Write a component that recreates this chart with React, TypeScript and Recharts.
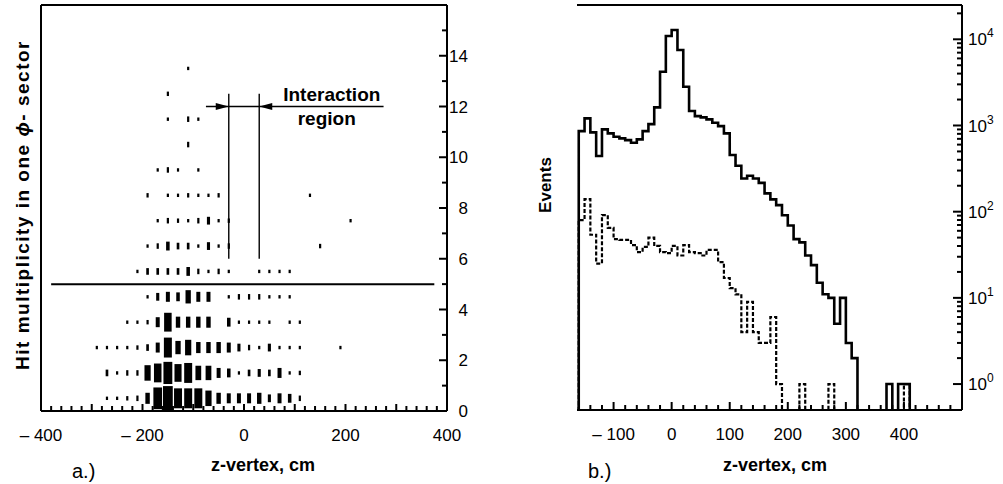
import React from 'react';
import { ScatterChart, Scatter, LineChart, Line, XAxis, YAxis, ReferenceLine, ReferenceDot, Label } from 'recharts';

const FONT = '"Liberation Sans", Arial, Helvetica, sans-serif';
const INK = '#000';

// ---------- panel a.) : hit multiplicity vs z-vertex (box histogram) ----------
const Z_CENTERS = [-290, -270, -250, -230, -210, -190, -170, -150, -130, -110, -90, -70, -50, -30, -10, 10, 30, 50, 70, 90, 110, 130, 150, 170, 190, 210];
const ROW_0 = [0, 14, 14, 25, 39, 156, 600, 760, 506, 506, 506, 306, 156, 127, 127, 127, 156, 77, 127, 100, 39, 0, 0, 0, 0, 0];
const ROW_1 = [0, 56, 14, 39, 39, 306, 451, 625, 400, 506, 264, 264, 127, 100, 14, 56, 77, 56, 127, 14, 25, 0, 0, 0, 0, 0];
const ROW_2 = [14, 14, 14, 14, 25, 56, 127, 506, 225, 306, 156, 156, 156, 127, 77, 39, 14, 77, 14, 14, 14, 0, 0, 0, 14, 0];
const ROW_3 = [0, 0, 0, 14, 14, 25, 127, 451, 156, 156, 156, 156, 0, 100, 14, 14, 14, 14, 0, 14, 14, 0, 0, 0, 0, 0];
const ROW_4 = [0, 0, 0, 0, 0, 14, 77, 127, 100, 225, 127, 127, 0, 14, 39, 39, 39, 14, 14, 14, 0, 0, 0, 0, 0, 0];
const ROW_5 = [0, 0, 0, 0, 14, 56, 56, 56, 56, 100, 39, 14, 39, 14, 0, 0, 14, 14, 14, 14, 0, 0, 0, 0, 0, 0];
const ROW_6 = [0, 0, 0, 0, 0, 14, 39, 100, 56, 56, 14, 77, 14, 39, 0, 0, 0, 0, 0, 0, 0, 0, 25, 0, 0, 0];
const ROW_7 = [0, 0, 0, 0, 0, 0, 14, 39, 25, 14, 39, 77, 14, 25, 0, 0, 0, 0, 0, 0, 0, 0, 0, 0, 0, 14];
const ROW_8 = [0, 0, 0, 0, 0, 25, 0, 14, 14, 25, 14, 14, 25, 0, 0, 0, 0, 0, 0, 0, 0, 14, 0, 0, 0, 0];
const ROW_9 = [0, 0, 0, 0, 0, 0, 14, 39, 14, 0, 14, 0, 0, 0, 0, 0, 0, 0, 0, 0, 0, 0, 0, 0, 0, 0];
const ROW_10 = [0, 0, 0, 0, 0, 0, 0, 0, 0, 39, 0, 0, 0, 0, 0, 0, 0, 0, 0, 0, 0, 0, 0, 0, 0, 0];
const ROW_11 = [0, 0, 0, 0, 0, 0, 0, 14, 0, 39, 14, 0, 0, 0, 0, 0, 0, 0, 0, 0, 0, 0, 0, 0, 0, 0];
const ROW_12 = [0, 0, 0, 0, 0, 0, 0, 25, 0, 0, 0, 0, 0, 0, 0, 0, 0, 0, 0, 0, 0, 0, 0, 0, 0, 0];
const ROW_13 = [0, 0, 0, 0, 0, 0, 0, 0, 0, 14, 0, 0, 0, 0, 0, 0, 0, 0, 0, 0, 0, 0, 0, 0, 0, 0];
const MULT_ROWS = [ROW_0, ROW_1, ROW_2, ROW_3, ROW_4, ROW_5, ROW_6, ROW_7, ROW_8, ROW_9, ROW_10, ROW_11, ROW_12, ROW_13];
const XA_LABELS = [-400, -200, 0, 200, 400];
const YA_LABELS = [0, 2, 4, 6, 8, 10, 12, 14];
const CUT_MULT = 5;
const REGION_Z = [-30, 30];

// ---------- panel b.) : events vs z-vertex (log histogram) ----------
const BIN_LEFT = [-160, -150, -140, -130, -120, -110, -100, -90, -80, -70, -60, -50, -40, -30, -20, -10, 0, 10, 20, 30, 40, 50, 60, 70, 80, 90, 100, 110, 120, 130, 140, 150, 160, 170, 180, 190, 200, 210, 220, 230, 240, 250, 260, 270, 280, 290, 300, 310, 320, 330, 340, 350, 360, 370, 380, 390, 400, 410];
const EVENTS_ALL = [861, 1208, 832, 442, 901, 809, 739, 708, 677, 630, 690, 861, 1038, 1622, 4200, 10900, 12800, 7500, 2810, 1470, 1285, 1241, 1177, 1075, 984, 809, 454, 341, 243, 261, 243, 216, 163, 139, 119, 91, 69, 48, 44, 31, 24, 15, 11, 10, 5, 10, 3, 2, 0, 0, 0, 0, 0, 1, 0, 1, 1, 0];
const EVENTS_CUT = [80, 140, 54, 25, 91, 65, 48, 47, 47, 41, 34, 39, 50, 40, 34, 33, 40, 31, 41, 34, 33, 31, 36, 36, 26, 17, 13, 11, 4, 9, 4, 3, 3, 6, 1, 0, 0, 0, 1, 0, 0, 0, 0, 1, 0, 0, 0, 0, 0, 0, 0, 0, 0, 0, 0, 0, 1, 0];
const XB_LABELS = [-100, 0, 100, 200, 300, 400];
const YB_DECADES = [1, 10, 100, 1000, 10000];

// ---------- geometry ----------
const A_W = 500, A_H = 484;
const A_MARGIN = { top: 5, right: 52, bottom: 72, left: 41 };
const A_XDOM: [number, number] = [-400, 400];
const A_YDOM: [number, number] = [0, 16];
const A_PW = 406;
const A_PH = 406;
const CELL_W = (A_PW * 20) / (A_XDOM[1] - A_XDOM[0]);
const CELL_H = A_PH / (A_YDOM[1] - A_YDOM[0]);
const FULL_COUNT = 820;

const B_W = 503, B_H = 484;
const B_MARGIN = { top: 5, right: 40, bottom: 73, left: 77 };
const B_XDOM: [number, number] = [-163, 500];
const B_YDOM: [number, number] = [0.5, 25000];
const FLOOR = 0.3;

const fmtZ = (v: number) => (v < 0 ? `\u2013 ${Math.abs(v)}` : `${v}`);

const cells = MULT_ROWS.flatMap((row, m) =>
  row.map((count, i) => ({ z: Z_CENTERS[i], m: m + 0.5, count })).filter((d) => d.count > 0)
);

const toSteps = (vals: number[]) => [
  { z: BIN_LEFT[0], v: FLOOR },
  ...BIN_LEFT.map((z, i) => ({ z, v: vals[i] > 0 ? vals[i] : FLOOR })),
];
const stepsAll = toSteps(EVENTS_ALL);
const stepsCut = toSteps(EVENTS_CUT);

const range = (a: number, b: number, s: number) => {
  const out: number[] = [];
  for (let v = a; v <= b + 1e-9; v += s) out.push(v);
  return out;
};
const XA_TICKS = range(-400, 400, 20);
const YA_TICKS = range(0, 15, 1);
const XB_TICKS = range(-160, 480, 20);
const YB_TICKS = YB_DECADES.flatMap((d) => [1, 2, 3, 4, 5, 6, 7, 8, 9].map((k) => k * d)).filter((v) => v <= 20000);

const Box = (p: any) => {
  const s = Math.min(1, Math.sqrt(p.payload.count / FULL_COUNT));
  const w = Math.max(2.2, CELL_W * s);
  const h = Math.max(3.4, CELL_H * s);
  return <rect x={p.cx - w / 2} y={p.cy - h / 2} width={w} height={h} fill={INK} />;
};

const ArrowRight = (p: any) => (
  <polygon points={`${p.cx},${p.cy} ${p.cx - 13},${p.cy - 3.5} ${p.cx - 13},${p.cy + 3.5}`} fill={INK} />
);
const ArrowLeft = (p: any) => (
  <polygon points={`${p.cx},${p.cy} ${p.cx + 13},${p.cy - 3.5} ${p.cx + 13},${p.cy + 3.5}`} fill={INK} />
);

const XTickA = (p: any) => {
  const v = p.payload.value;
  const major = v % 100 === 0;
  return (
    <g>
      <line x1={p.x} x2={p.x} y1={p.y} y2={p.y - (major ? 7 : 5)} stroke={INK} strokeWidth={2} />
      {XA_LABELS.includes(v) && (
        <text x={p.x} y={p.y + 30} textAnchor="middle" fontSize={17} fontFamily={FONT} fill={INK}>
          {fmtZ(v)}
        </text>
      )}
    </g>
  );
};

const YTickA = (p: any) => {
  const v = p.payload.value;
  const major = v % 2 === 0;
  return (
    <g>
      <line x1={p.x} x2={p.x - (major ? 8 : 5)} y1={p.y} y2={p.y} stroke={INK} strokeWidth={2} />
      {YA_LABELS.includes(v) && (
        <text x={p.x + 21} y={p.y} dy="0.36em" textAnchor="end" fontSize={17} fontFamily={FONT} fill={INK}>
          {v}
        </text>
      )}
    </g>
  );
};

const XTickB = (p: any) => {
  const v = p.payload.value;
  const major = v % 100 === 0;
  return (
    <g>
      <line x1={p.x} x2={p.x} y1={p.y} y2={p.y - (major ? 8 : 5)} stroke={INK} strokeWidth={2} />
      {XB_LABELS.includes(v) && (
        <text x={p.x} y={p.y + 30} textAnchor="middle" fontSize={17} fontFamily={FONT} fill={INK}>
          {fmtZ(v)}
        </text>
      )}
    </g>
  );
};

const YTickB = (p: any) => {
  const v = p.payload.value;
  const idx = YB_DECADES.indexOf(v);
  const major = idx >= 0;
  return (
    <g>
      <line x1={p.x} x2={p.x - (major ? 9 : 5)} y1={p.y} y2={p.y} stroke={INK} strokeWidth={2} />
      {major && (
        <text x={p.x + 6} y={p.y} dy="0.36em" fontSize={17} fontFamily={FONT} fill={INK}>
          10
          <tspan fontSize={12} dy={-8}>
            {idx}
          </tspan>
        </text>
      )}
    </g>
  );
};

const PanelA = () => (
  <ScatterChart width={A_W} height={A_H} margin={A_MARGIN}>
    <XAxis
      type="number"
      dataKey="z"
      domain={A_XDOM}
      ticks={XA_TICKS}
      interval={0}
      height={1}
      tickSize={0}
      tickMargin={0}
      tickLine={false}
      axisLine={{ stroke: INK, strokeWidth: 2 }}
      tick={XTickA}
      allowDataOverflow
    />
    <YAxis
      type="number"
      dataKey="m"
      orientation="right"
      domain={A_YDOM}
      ticks={YA_TICKS}
      interval={0}
      width={1}
      tickSize={0}
      tickMargin={0}
      tickLine={false}
      axisLine={{ stroke: INK, strokeWidth: 2 }}
      tick={YTickA}
      allowDataOverflow
    />
    <ReferenceLine x={A_XDOM[0]} stroke={INK} strokeWidth={2} />
    <ReferenceLine y={A_YDOM[1]} stroke={INK} strokeWidth={2} />
    <ReferenceLine
      segment={[{ x: -380, y: CUT_MULT }, { x: 375, y: CUT_MULT }]}
      stroke={INK}
      strokeWidth={2}
    />
    <ReferenceLine segment={[{ x: REGION_Z[0], y: 6 }, { x: REGION_Z[0], y: 12.5 }]} stroke={INK} strokeWidth={1.4} />
    <ReferenceLine segment={[{ x: REGION_Z[1], y: 6 }, { x: REGION_Z[1], y: 12.5 }]} stroke={INK} strokeWidth={1.4} />
    <ReferenceLine segment={[{ x: -75, y: 12 }, { x: 275, y: 12 }]} stroke={INK} strokeWidth={1.4} />
    <Scatter data={cells} shape={Box} isAnimationActive={false} />
    <Scatter data={[{ z: REGION_Z[0], m: 12 }]} shape={ArrowRight} isAnimationActive={false} />
    <Scatter data={[{ z: REGION_Z[1], m: 12 }]} shape={ArrowLeft} isAnimationActive={false} />
    <ReferenceDot x={173} y={12.5} r={0} fill="none" stroke="none">
      <Label value="Interaction" position="center" fontSize={19} fontWeight="bold" fontFamily={FONT} fill={INK} />
    </ReferenceDot>
    <ReferenceDot x={163} y={11.55} r={0} fill="none" stroke="none">
      <Label value="region" position="center" fontSize={19} fontWeight="bold" fontFamily={FONT} fill={INK} />
    </ReferenceDot>
  </ScatterChart>
);

const PanelB = () => (
  <LineChart width={B_W} height={B_H} margin={B_MARGIN}>
    <XAxis
      type="number"
      dataKey="z"
      domain={B_XDOM}
      ticks={XB_TICKS}
      interval={0}
      height={1}
      tickSize={0}
      tickMargin={0}
      tickLine={false}
      axisLine={{ stroke: INK, strokeWidth: 2 }}
      tick={XTickB}
      allowDataOverflow
    />
    <YAxis
      type="number"
      scale="log"
      orientation="right"
      domain={B_YDOM}
      ticks={YB_TICKS}
      interval={0}
      width={1}
      tickSize={0}
      tickMargin={0}
      tickLine={false}
      axisLine={{ stroke: INK, strokeWidth: 2 }}
      tick={YTickB}
      allowDataOverflow
    />
    <ReferenceLine y={B_YDOM[1]} stroke={INK} strokeWidth={2} />
    <Line
      data={stepsCut}
      dataKey="v"
      type="stepAfter"
      stroke={INK}
      strokeWidth={2.2}
      strokeDasharray="4 2"
      dot={false}
      activeDot={false}
      isAnimationActive={false}
    />
    <Line
      data={stepsAll}
      dataKey="v"
      type="stepAfter"
      stroke={INK}
      strokeWidth={2.6}
      dot={false}
      activeDot={false}
      strokeLinejoin="miter"
      isAnimationActive={false}
    />
  </LineChart>
);

export default function App() {
  return (
    <div style={{ position: 'absolute', left: 0, top: 0, width: 1003, height: 484, background: '#fff', fontFamily: FONT }}>
      <div style={{ position: 'absolute', left: 0, top: 0 }}>
        <PanelA />
      </div>
      <div style={{ position: 'absolute', left: 500, top: 0 }}>
        <PanelB />
      </div>
      <svg width={1003} height={484} style={{ position: 'absolute', left: 0, top: 0, pointerEvents: 'none' }}>
        <text x={263} y={471} textAnchor="middle" fontSize={18} fontWeight="bold" fontFamily={FONT} fill={INK}>
          z-vertex, cm
        </text>
        <text x={775} y={471} textAnchor="middle" fontSize={18} fontWeight="bold" fontFamily={FONT} fill={INK}>
          z-vertex, cm
        </text>
        <text x={72} y={478} fontSize={20} fontFamily={FONT} fill={INK}>
          a.)
        </text>
        <text x={588} y={478} fontSize={20} fontFamily={FONT} fill={INK}>
          b.)
        </text>
        <text
          transform="translate(29,205) rotate(-90)"
          textAnchor="middle"
          fontSize={19}
          letterSpacing={1.5}
          fontWeight="bold"
          fontFamily={FONT}
          fill={INK}
        >
          Hit multiplicity in one <tspan fontStyle="italic">{'\u03d5'}</tspan>- sector
        </text>
        <text transform="translate(551,185) rotate(-90)" textAnchor="middle" fontSize={17} fontWeight="bold" fontFamily={FONT} fill={INK}>
          Events
        </text>
      </svg>
    </div>
  );
}
